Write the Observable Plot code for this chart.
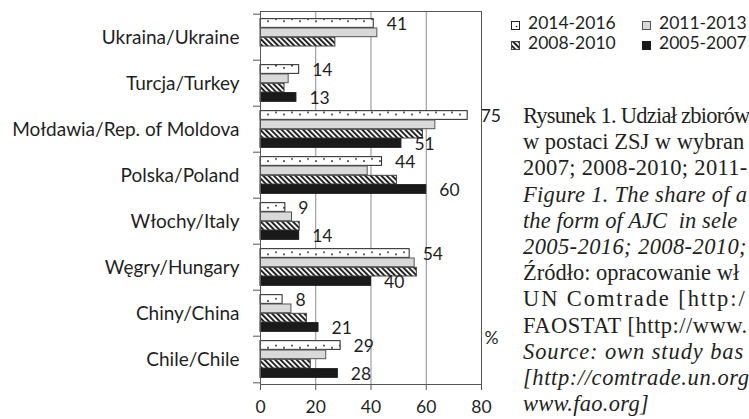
<!DOCTYPE html>
<html>
<head>
<meta charset="utf-8">
<script src="https://cdn.jsdelivr.net/npm/d3@7"></script>
<script src="https://cdn.jsdelivr.net/npm/@observablehq/plot@0.6"></script>
<style>
  html, body { margin: 0; padding: 0; background: #fff; }
  #wrap { position: relative; width: 749px; height: 419px; overflow: hidden; }
  #chart { position: absolute; left: 0; top: 0; }
  .leg { position: absolute; font-family: Lato, sans-serif; font-size: 17.5px; color: #1f1f1f; line-height: 20px; white-space: nowrap; }
  .leg svg { vertical-align: -1px; margin-right: 8px; }
  #caption { position: absolute; left: 523px; top: 103px; font-family: "Liberation Serif", serif; font-size: 22.5px; line-height: 26.2px; color: #231f20; white-space: nowrap; }
  #caption div { white-space: pre; }
  .it { font-style: italic; }
</style>
</head>
<body>
<svg width="0" height="0" style="position:absolute">
  <defs>
    <pattern id="pDots" patternUnits="userSpaceOnUse" width="16" height="9.3">
      <rect width="16" height="9.3" fill="#fff"></rect>
      <circle cx="4" cy="3.4" r="0.9" fill="#111"></circle>
      <circle cx="12" cy="5.6" r="0.9" fill="#111"></circle>
    </pattern>
    <pattern id="pHatch" patternUnits="userSpaceOnUse" width="3.8" height="3.8" patternTransform="rotate(-45)">
      <rect width="3.8" height="3.8" fill="#fff"></rect>
      <rect width="2" height="3.8" fill="#222"></rect>
    </pattern>
    <pattern id="pDotsLeg" patternUnits="userSpaceOnUse" width="8" height="8">
      <rect width="8" height="8" fill="#fff"></rect>
      <circle cx="5.5" cy="5.5" r="0.8" fill="#111"></circle>
    </pattern>
  </defs>
</svg>
<div id="wrap">
  <div id="chart"></div>
  <div id="legend"></div>
  <div id="caption"></div>
</div>
<script>
const countries = [
  "Ukraina/Ukraine",
  "Turcja/Turkey",
  "Mołdawia/Rep. of Moldova",
  "Polska/Poland",
  "Włochy/Italy",
  "Węgry/Hungary",
  "Chiny/China",
  "Chile/Chile"
];
const series = ["2014-2016", "2011-2013", "2008-2010", "2005-2007"];
const v2014_2016 = [41, 14, 75, 44, 9, 54, 8, 29];
const v2011_2013 = [42.3, 10.2, 63.3, 38.8, 11.4, 55.8, 11.2, 23.8];
const v2008_2010 = [27.1, 8.7, 58.8, 49.4, 14.2, 56.6, 16.8, 18.2];
const v2005_2007 = [null, 13, 51, 60, 14, 40, 21, 28];
const labelledSeries = ["2014-2016", "2005-2007"];
const xTicks = [0, 20, 40, 60, 80];

// caption lines: text, italic?, letter spacing
const captionLines = [
  ["Rysunek 1. Udział zbiorów", "", "-0.75px"],
  ["w postaci ZSJ w wybran", "", "0px"],
  ["2007; 2008-2010; 2011-", "", "0.3px"],
  ["Figure 1. The share of a", "it", "0.3px"],
  ["the form of AJC  in sele", "it", "0.1px"],
  ["2005-2016; 2008-2010;", "it", "0.4px"],
  ["Źródło: opracowanie wł", "", "0px"],
  ["UN Comtrade [http:/", "", "1.9px"],
  ["FAOSTAT [http://www.", "", "0.5px"],
  ["Source: own study bas", "it", "0.9px"],
  ["[http://comtrade.un.org", "it", "0.6px"],
  ["www.fao.org]", "it", "0.3px"]
];

const valuesBySeries = [v2014_2016, v2011_2013, v2008_2010, v2005_2007];
const data = countries.flatMap((c, i) =>
  series.map((s, j) => ({country: c, series: s, value: valuesBySeries[j][i]}))
).filter(d => d.value != null);

const W = 749, H = 419, mt = 11, mb = 35, ml = 260, mr = 268;
const bw = (H - mt - mb) / countries.length;
const hb = bw / (series.length + 1);

const fills = {"2014-2016": "url(#pDots)", "2011-2013": "#d9d9d9", "2008-2010": "url(#pHatch)", "2005-2007": "#1a1a1a"};
const strokes = {"2014-2016": "#222", "2011-2013": "#555", "2008-2010": "#444", "2005-2007": "#1a1a1a"};

// align dot pattern rows with the dotted bars
const pd = document.getElementById("pDots");
pd.setAttribute("y", mt + hb / 2);
pd.setAttribute("height", hb);

const axisColor = "#555";
const textColor = "#1f1f1f";

const chart = Plot.plot({
  width: W, height: H,
  marginTop: mt, marginBottom: mb, marginLeft: ml, marginRight: mr,
  style: {fontFamily: "Lato, sans-serif", fontSize: "17.5px", color: textColor, background: "transparent", overflow: "visible"},
  x: {domain: [0, 80], label: null},
  y: {domain: countries, padding: 0, label: null},
  marks: [
    Plot.ruleX([20, 40, 60], {stroke: "#8c8c8c", strokeWidth: 1}),
    ...series.map((s, j) => Plot.barX(data.filter(d => d.series === s), {
      x: "value", y: "country",
      fill: fills[s], stroke: strokes[s], strokeWidth: 1,
      insetTop: hb * (0.5 + j), insetBottom: hb * (series.length - 0.5 - j)
    })),
    Plot.frame({stroke: axisColor, strokeWidth: 1}),
    Plot.axisY({tickSize: 0, tickPadding: 21, label: null, fill: textColor, fontSize: 19}),
    Plot.axisY({tickSize: 7, fill: "none", stroke: axisColor, dy: -bw / 2, label: null}),
    Plot.axisY({ticks: [countries[countries.length - 1]], tickSize: 7, fill: "none", stroke: axisColor, dy: bw / 2, label: null}),
    Plot.axisX({ticks: xTicks, tickSize: 6, tickPadding: 10, stroke: axisColor, fill: textColor, label: null}),
    Plot.text(data.filter(d => d.series === labelledSeries[0]), {
      x: "value", y: "country", text: d => String(d.value),
      dx: 13, dy: -1.5 * hb + 1, textAnchor: "start", fill: textColor
    }),
    Plot.text(data.filter(d => d.series === labelledSeries[1]), {
      x: "value", y: "country", text: d => String(d.value),
      dx: 13, dy: 1.5 * hb + 1, textAnchor: "start", fill: textColor
    }),
    Plot.text(["%"], {frameAnchor: "bottom-right", text: d => d, dx: 3, dy: -41, textAnchor: "start", fill: textColor})
  ]
});
document.getElementById("chart").appendChild(chart);

// legend
const legFill = {"2014-2016": "url(#pDotsLeg)", "2011-2013": "#d9d9d9", "2008-2010": "url(#pHatch)", "2005-2007": "#1a1a1a"};
const legPos = [[511, 13], [642, 13], [511, 33], [642, 33]];
const legend = document.getElementById("legend");
series.forEach((s, j) => {
  const d = document.createElement("div");
  d.className = "leg";
  d.style.left = legPos[j][0] + "px";
  d.style.top = legPos[j][1] + "px";
  d.innerHTML = `<svg width="9" height="9"><rect x="0.5" y="0.5" width="8" height="8" fill="${legFill[s]}" stroke="${strokes[s]}" stroke-width="1"></rect></svg>${s}`;
  legend.appendChild(d);
});

// caption
const cap = document.getElementById("caption");
captionLines.forEach(([t, cls, ls]) => {
  const d = document.createElement("div");
  if (cls) d.className = cls;
  d.style.letterSpacing = ls;
  d.textContent = t;
  cap.appendChild(d);
});
</script>
</body>
</html>
